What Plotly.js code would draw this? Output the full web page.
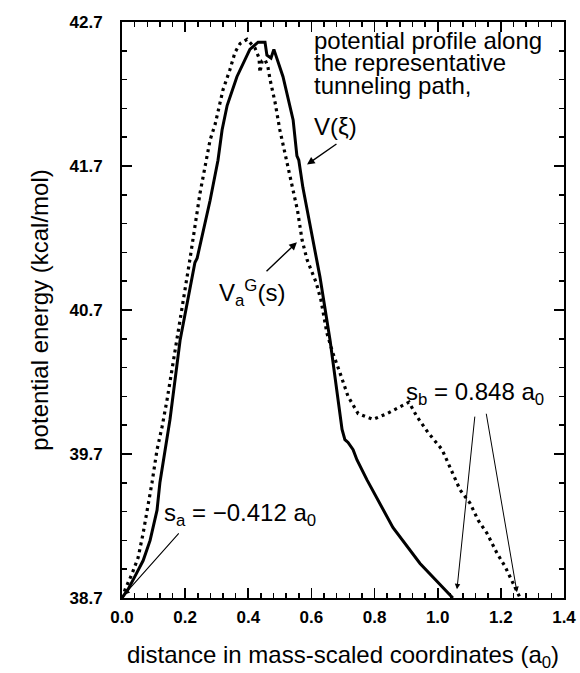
<!DOCTYPE html>
<html>
<head>
<meta charset="utf-8">
<script src="https://cdn.plot.ly/plotly-3.0.1.min.js"></script>
<style>html,body{margin:0;padding:0;background:#fff;}#chart{width:580px;height:673px;}</style>
</head>
<body>
<div id="chart"></div>
<script>
// V(xi): potential profile along the representative tunneling path (solid)
const solidX = [0.000, 0.019, 0.041, 0.067, 0.089, 0.111, 0.120, 0.136, 0.152, 0.184, 0.209, 0.231, 0.238, 0.257, 0.279, 0.304, 0.317, 0.333, 0.364, 0.405, 0.431, 0.453, 0.459, 0.472, 0.481, 0.510, 0.526, 0.542, 0.554, 0.560, 0.573, 0.596, 0.627, 0.659, 0.668, 0.684, 0.697, 0.706, 0.716, 0.732, 0.744, 0.776, 0.858, 0.944, 1.048];
const solidY = [38.70, 38.76, 38.85, 38.96, 39.10, 39.31, 39.50, 39.71, 39.94, 40.49, 40.77, 41.03, 41.06, 41.24, 41.46, 41.74, 41.95, 42.12, 42.32, 42.51, 42.56, 42.56, 42.47, 42.45, 42.51, 42.32, 42.16, 42.02, 41.77, 41.74, 41.55, 41.28, 40.93, 40.49, 40.35, 40.08, 39.87, 39.80, 39.78, 39.73, 39.66, 39.52, 39.19, 38.94, 38.70];
// Va^G(s) (dotted)
const dotX = [0.000, 0.010, 0.032, 0.051, 0.067, 0.082, 0.095, 0.111, 0.127, 0.143, 0.174, 0.215, 0.247, 0.279, 0.295, 0.320, 0.342, 0.358, 0.374, 0.396, 0.421, 0.434, 0.437, 0.444, 0.453, 0.462, 0.469, 0.485, 0.500, 0.516, 0.532, 0.548, 0.556, 0.570, 0.586, 0.615, 0.630, 0.649, 0.668, 0.691, 0.716, 0.748, 0.795, 0.839, 0.881, 0.909, 0.934, 0.969, 1.014, 1.039, 1.071, 1.102, 1.128, 1.156, 1.188, 1.213, 1.239, 1.261];
const dotY = [38.70, 38.76, 38.87, 38.98, 39.15, 39.33, 39.50, 39.73, 39.89, 40.08, 40.49, 41.05, 41.51, 41.88, 41.99, 42.23, 42.37, 42.49, 42.55, 42.58, 42.52, 42.45, 42.35, 42.43, 42.44, 42.39, 42.30, 42.14, 41.95, 41.79, 41.62, 41.46, 41.39, 41.19, 41.05, 40.89, 40.77, 40.54, 40.40, 40.26, 40.10, 39.98, 39.94, 39.98, 40.03, 40.06, 39.96, 39.85, 39.73, 39.61, 39.45, 39.36, 39.24, 39.15, 39.01, 38.92, 38.80, 38.70];

const yTickVals = [38.7, 39.7, 40.7, 41.7, 42.7];
const yTickText = ['38.7', '39.7', '40.7', '41.7', '42.7'];
const xTickVals = [0.0, 0.2, 0.4, 0.6, 0.8, 1.0, 1.2, 1.4];
const xTickText = ['0.0', '0.2', '0.4', '0.6', '0.8', '1.0', '1.2', '1.4'];

const FONT = 'Liberation Sans, Arial, Helvetica, sans-serif';

const traces = [
  {x: solidX, y: solidY, type: 'scatter', mode: 'lines', line: {color: '#000', width: 3}, hoverinfo: 'skip', showlegend: false},
  {x: dotX, y: dotY, type: 'scatter', mode: 'lines', line: {color: '#000', width: 3.2, dash: '3px,4px'}, hoverinfo: 'skip', showlegend: false}
];

function txt(x, y, t, size) {
  return {x: x, y: y, xref: 'x', yref: 'y', text: t, showarrow: false, xanchor: 'left', yanchor: 'middle',
          font: {family: FONT, size: size || 24, color: '#000'}};
}
function arr(x, y, ax, ay, w) {
  return {x: x, y: y, ax: ax, ay: ay, xref: 'x', yref: 'y', axref: 'x', ayref: 'y', text: '', showarrow: true,
          arrowhead: 2, arrowsize: 1.1, arrowwidth: w || 1.2, arrowcolor: '#000', standoff: 0, startstandoff: 0};
}

const annotations = [
  txt(0.602, 42.575, 'potential profile along'),
  txt(0.602, 42.42, 'the representative'),
  txt(0.602, 42.26, 'tunneling path,'),
  txt(0.602, 41.975, 'V(ξ)'),
  txt(0.302, 40.82, 'V<sub>a</sub><sup>G</sup>(s)'),
  txt(0.128, 39.28, 's<sub>a</sub> = −0.412 a<sub>0</sub>'),
  txt(0.893, 40.12, 's<sub>b</sub> = 0.848 a<sub>0</sub>'),
  arr(0.586, 41.71, 0.684, 41.86, 1.4),
  arr(0.554, 41.17, 0.453, 40.96, 1.4),
  arr(0.006, 38.72, 0.184, 39.16, 1.1),
  arr(1.061, 38.76, 1.118, 39.97, 1.0),
  arr(1.251, 38.74, 1.153, 39.99, 1.0)
];

const axisCommon = {
  showline: true, linewidth: 2, linecolor: '#000', mirror: 'ticks',
  ticks: 'inside', ticklen: 10, tickwidth: 1.8, tickcolor: '#000',
  showgrid: false, zeroline: false,
  tickfont: {family: FONT, size: 17, color: '#000', weight: 'bold'}
};

const layout = {
  width: 580, height: 673,
  margin: {l: 122, r: 16, t: 22, b: 75},
  paper_bgcolor: '#fff', plot_bgcolor: '#fff',
  xaxis: Object.assign({}, axisCommon, {
    range: [0, 1.4], tickmode: 'array', tickvals: xTickVals, ticktext: xTickText,
    ticklabelstandoff: 3,
    minor: {tickmode: 'linear', tick0: 0, dtick: 0.04, ticks: 'inside', ticklen: 5, tickwidth: 1.5, tickcolor: '#000', showgrid: false},
    title: {text: 'distance in mass-scaled coordinates (a<sub>0</sub>)', font: {family: FONT, size: 24, color: '#000'}, standoff: 20}
  }),
  yaxis: Object.assign({}, axisCommon, {
    range: [38.7, 42.7], tickmode: 'array', tickvals: yTickVals, ticktext: yTickText,
    ticklabelstandoff: 14,
    minor: {tickmode: 'linear', tick0: 38.7, dtick: 0.2, ticks: 'inside', ticklen: 5, tickwidth: 1.5, tickcolor: '#000', showgrid: false},
    title: {text: 'potential energy (kcal/mol)', font: {family: FONT, size: 24, color: '#000'}, standoff: 14}
  }),
  annotations: annotations,
  showlegend: false
};

Plotly.newPlot('chart', traces, layout, {staticPlot: true, displayModeBar: false});
</script>
</body>
</html>
